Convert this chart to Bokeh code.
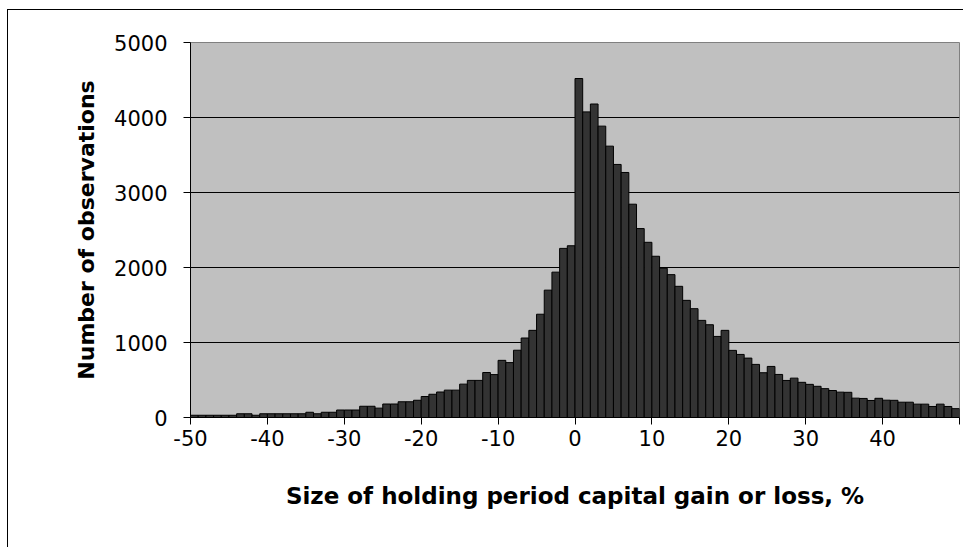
from bokeh.plotting import figure
from bokeh.models import Range1d, FixedTicker, ColumnDataSource
from bokeh.embed import file_html
from bokeh.resources import INLINE

# Histogram bins: each bin k covers [k, k+1) percent
bins = list(range(-50, 50))
counts = [
    30, 30, 30, 30, 30, 30, 50, 50, 30, 50,            # -50 .. -41
    50, 50, 50, 50, 50, 70, 50, 70, 70, 100,           # -40 .. -31
    100, 100, 150, 150, 125, 180, 180, 210, 210, 230,  # -30 .. -21
    280, 310, 340, 365, 365, 445, 495, 495, 600, 572,  # -20 .. -11
    762, 732, 897, 1060, 1162, 1377, 1698, 1938, 2255, 2290,  # -10 .. -1
    4520, 4075, 4180, 3885, 3618, 3374, 3267, 2844, 2519, 2336,  # 0 .. 9
    2150, 1990, 1905, 1749, 1562, 1451, 1295, 1237, 1081, 1162,  # 10 .. 19
    895, 841, 792, 708, 597, 681, 574, 494, 525, 469,  # 20 .. 29
    442, 416, 385, 360, 338, 336, 258, 254, 227, 256,  # 30 .. 39
    231, 229, 204, 204, 178, 178, 147, 178, 147, 118,  # 40 .. 49
]
x_ticks = list(range(-50, 51, 10))
x_tick_labels = {t: (str(t) if t < 50 else "") for t in x_ticks}
y_ticks = [0, 1000, 2000, 3000, 4000, 5000]

x_title = "Size of holding period capital gain or loss, %"
y_title = "Number of observations"

FONT = "DejaVu Sans"

p = figure(width=963, height=547, output_backend="svg", toolbar_location=None,
           x_range=Range1d(-50, 50), y_range=Range1d(0, 5000),
           min_border_left=190, min_border_right=4,
           min_border_top=42, min_border_bottom=130)
p.background_fill_color = "#C0C0C0"
# transparent border area so the page background (with the outer chart frame) shows
p.border_fill_alpha = 0
p.styles = {
    "background": ("linear-gradient(#000, #000) 7px 9px / 1px 100% no-repeat, "
                   "linear-gradient(#000, #000) 7px 9px / 100% 1px no-repeat, #fff"),
}
p.outline_line_color = "#808080"
p.outline_line_width = 1

src = ColumnDataSource(dict(x=[b + 0.5 for b in bins], top=counts))
p.vbar(x="x", top="top", bottom=0, width=1, source=src,
       fill_color="#333333", line_color="black", line_width=1)

p.xgrid.visible = False
p.ygrid.ticker = FixedTicker(ticks=y_ticks)
p.ygrid.grid_line_color = "black"
p.ygrid.grid_line_width = 1

xa = p.xaxis[0]
xa.ticker = FixedTicker(ticks=x_ticks)
xa.major_label_overrides = x_tick_labels
xa.minor_tick_line_color = None
xa.major_tick_in = 0
xa.major_tick_out = 7
xa.major_tick_line_color = "black"
xa.axis_line_color = "black"
xa.major_label_text_font = FONT
xa.major_label_text_font_size = "21px"
xa.major_label_text_color = "black"
xa.major_label_standoff = 5
xa.axis_label = x_title
xa.axis_label_text_font = FONT
xa.axis_label_text_font_style = "bold"
xa.axis_label_text_font_size = "23px"
xa.axis_label_text_color = "black"
xa.axis_label_standoff = 34

ya = p.yaxis[0]
ya.ticker = FixedTicker(ticks=y_ticks)
ya.minor_tick_line_color = None
ya.major_tick_in = 0
ya.major_tick_out = 7
ya.major_tick_line_color = "black"
ya.axis_line_color = "black"
ya.major_label_text_font = FONT
ya.major_label_text_font_size = "21px"
ya.major_label_text_color = "black"
ya.major_label_standoff = 16
ya.axis_label = y_title
ya.axis_label_text_font = FONT
ya.axis_label_text_font_style = "bold"
ya.axis_label_text_font_size = "22px"
ya.axis_label_text_color = "black"
ya.axis_label_standoff = 12

open("out.html", "w").write(file_html(p, INLINE))
